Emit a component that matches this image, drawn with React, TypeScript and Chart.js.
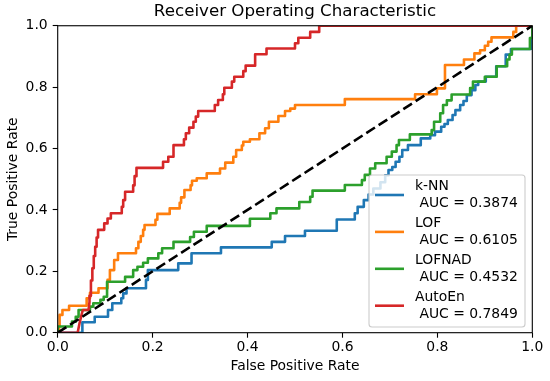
import React, { useEffect, useRef } from "react";
import { Chart, registerables } from "chart.js";

Chart.register(...registerables);

const chartTitle = "Receiver Operating Characteristic";
const xAxisTitle = "False Positive Rate";
const yAxisTitle = "True Positive Rate";

const seriesNames = ["k-NN", "LOF", "LOFNAD", "AutoEn"];
const aucLabels = ["0.3874", "0.6105", "0.4532", "0.7849"];
const seriesColors = ["#1f77b4", "#ff7f0e", "#2ca02c", "#d62728"];

const xTicks = [0, 0.2, 0.4, 0.6, 0.8, 1.0];
const xTickLabels = ["0.0", "0.2", "0.4", "0.6", "0.8", "1.0"];
const yTicks = [0, 0.2, 0.4, 0.6, 0.8, 1.0];
const yTickLabels = ["0.0", "0.2", "0.4", "0.6", "0.8", "1.0"];

// (false positive rate, true positive rate) corners of each ROC curve
const knnRoc: [number, number][] = [
  [0, 0], [0.052, 0], [0.052, 0.034], [0.078, 0.034], [0.078, 0.052], [0.106, 0.052],
  [0.106, 0.074], [0.115, 0.074], [0.115, 0.096], [0.134, 0.096], [0.134, 0.112],
  [0.138, 0.112], [0.138, 0.128], [0.145, 0.128], [0.145, 0.145], [0.186, 0.145],
  [0.186, 0.172], [0.19, 0.172], [0.19, 0.204], [0.254, 0.204], [0.254, 0.226],
  [0.282, 0.226], [0.282, 0.259], [0.344, 0.259], [0.344, 0.278], [0.451, 0.278],
  [0.451, 0.296], [0.479, 0.296], [0.479, 0.315], [0.521, 0.315], [0.521, 0.332],
  [0.588, 0.332], [0.588, 0.369], [0.626, 0.369], [0.626, 0.389], [0.632, 0.389],
  [0.632, 0.41], [0.645, 0.41], [0.645, 0.432], [0.655, 0.432], [0.655, 0.45],
  [0.665, 0.45], [0.665, 0.47], [0.68, 0.47], [0.68, 0.49], [0.69, 0.49], [0.69, 0.513],
  [0.697, 0.513], [0.697, 0.53], [0.705, 0.53], [0.705, 0.54], [0.712, 0.54],
  [0.712, 0.557], [0.72, 0.557], [0.72, 0.573], [0.726, 0.573], [0.726, 0.595],
  [0.738, 0.595], [0.738, 0.611], [0.765, 0.611], [0.765, 0.633], [0.785, 0.633],
  [0.785, 0.643], [0.795, 0.643], [0.795, 0.655], [0.808, 0.655], [0.808, 0.671],
  [0.815, 0.671], [0.815, 0.68], [0.822, 0.68], [0.822, 0.693], [0.832, 0.693],
  [0.832, 0.709], [0.838, 0.709], [0.838, 0.725], [0.848, 0.725], [0.848, 0.742],
  [0.855, 0.742], [0.855, 0.755], [0.862, 0.755], [0.862, 0.774], [0.872, 0.774],
  [0.872, 0.79], [0.88, 0.79], [0.88, 0.807], [0.886, 0.807], [0.886, 0.818],
  [0.902, 0.818], [0.902, 0.834], [0.924, 0.834], [0.924, 0.868], [0.944, 0.868],
  [0.944, 0.906], [0.955, 0.906], [0.955, 0.924], [0.997, 0.924], [0.997, 0.96],
  [1, 0.96], [1, 1],
];

const lofRoc: [number, number][] = [
  [0, 0], [0.004, 0.02], [0.004, 0.058], [0.01, 0.058], [0.01, 0.074], [0.024, 0.074],
  [0.024, 0.088], [0.061, 0.088], [0.061, 0.112], [0.068, 0.112], [0.068, 0.13],
  [0.086, 0.13], [0.086, 0.145], [0.105, 0.145], [0.105, 0.172], [0.11, 0.172],
  [0.11, 0.204], [0.119, 0.204], [0.119, 0.237], [0.127, 0.237], [0.127, 0.259],
  [0.165, 0.259], [0.165, 0.275], [0.17, 0.275], [0.17, 0.296], [0.175, 0.296],
  [0.175, 0.315], [0.18, 0.315], [0.18, 0.335], [0.183, 0.335], [0.183, 0.351],
  [0.206, 0.351], [0.206, 0.368], [0.21, 0.368], [0.21, 0.387], [0.236, 0.387],
  [0.236, 0.405], [0.257, 0.405], [0.257, 0.423], [0.26, 0.423], [0.26, 0.441],
  [0.267, 0.441], [0.267, 0.465], [0.28, 0.465], [0.28, 0.48], [0.283, 0.48],
  [0.283, 0.495], [0.293, 0.495], [0.293, 0.503], [0.314, 0.503], [0.314, 0.519],
  [0.342, 0.519], [0.342, 0.535], [0.353, 0.535], [0.353, 0.554], [0.37, 0.554],
  [0.37, 0.573], [0.376, 0.573], [0.376, 0.595], [0.388, 0.595], [0.388, 0.61],
  [0.391, 0.61], [0.391, 0.622], [0.405, 0.622], [0.405, 0.63], [0.425, 0.63],
  [0.425, 0.65], [0.437, 0.65], [0.437, 0.666], [0.445, 0.666], [0.445, 0.687],
  [0.465, 0.687], [0.465, 0.706], [0.479, 0.706], [0.479, 0.722], [0.49, 0.722],
  [0.49, 0.73], [0.5, 0.73], [0.5, 0.742], [0.605, 0.742], [0.605, 0.761],
  [0.753, 0.761], [0.753, 0.777], [0.799, 0.777], [0.799, 0.796], [0.816, 0.796],
  [0.816, 0.872], [0.856, 0.872], [0.856, 0.89], [0.878, 0.89], [0.878, 0.91],
  [0.89, 0.91], [0.89, 0.92], [0.9, 0.92], [0.9, 0.935], [0.907, 0.935],
  [0.907, 0.948], [0.914, 0.948], [0.914, 0.962], [0.96, 0.962], [0.96, 0.98],
  [0.966, 0.98], [0.966, 1], [1, 1],
];

const lofnadRoc: [number, number][] = [
  [0, 0], [0, 0.02], [0.03, 0.02], [0.03, 0.036], [0.038, 0.036], [0.038, 0.052],
  [0.044, 0.052], [0.044, 0.074], [0.068, 0.074], [0.068, 0.085], [0.075, 0.085],
  [0.075, 0.096], [0.09, 0.096], [0.09, 0.107], [0.097, 0.107], [0.097, 0.117],
  [0.104, 0.117], [0.104, 0.166], [0.142, 0.166], [0.142, 0.182], [0.159, 0.182],
  [0.159, 0.204], [0.168, 0.204], [0.168, 0.215], [0.18, 0.215], [0.18, 0.228],
  [0.19, 0.228], [0.19, 0.242], [0.212, 0.242], [0.212, 0.259], [0.22, 0.259],
  [0.22, 0.275], [0.244, 0.275], [0.244, 0.296], [0.279, 0.296], [0.279, 0.312],
  [0.287, 0.312], [0.287, 0.329], [0.314, 0.329], [0.314, 0.348], [0.405, 0.348],
  [0.405, 0.371], [0.448, 0.371], [0.448, 0.389], [0.461, 0.389], [0.461, 0.405],
  [0.509, 0.405], [0.509, 0.426], [0.532, 0.426], [0.532, 0.443], [0.537, 0.443],
  [0.537, 0.463], [0.605, 0.463], [0.605, 0.481], [0.641, 0.481], [0.641, 0.497],
  [0.647, 0.497], [0.647, 0.514], [0.658, 0.514], [0.658, 0.535], [0.669, 0.535],
  [0.669, 0.552], [0.693, 0.552], [0.693, 0.573], [0.704, 0.573], [0.704, 0.59],
  [0.714, 0.59], [0.714, 0.611], [0.719, 0.611], [0.719, 0.628], [0.742, 0.628],
  [0.742, 0.646], [0.788, 0.646], [0.788, 0.66], [0.793, 0.66], [0.793, 0.687],
  [0.806, 0.687], [0.806, 0.715], [0.812, 0.715], [0.812, 0.742], [0.82, 0.742],
  [0.82, 0.757], [0.83, 0.757], [0.83, 0.776], [0.869, 0.776], [0.869, 0.797],
  [0.875, 0.797], [0.875, 0.818], [0.9, 0.818], [0.9, 0.834], [0.925, 0.834],
  [0.925, 0.868], [0.947, 0.868], [0.947, 0.89], [0.952, 0.89], [0.952, 0.906],
  [0.957, 0.906], [0.957, 0.924], [0.995, 0.924], [0.995, 0.96], [1, 0.96], [1, 1],
];

const autoEnRoc: [number, number][] = [
  [0, 0], [0.042, 0], [0.046, 0.031], [0.051, 0.063], [0.053, 0.074], [0.065, 0.074],
  [0.067, 0.1], [0.067, 0.12], [0.07, 0.12], [0.07, 0.17], [0.073, 0.17], [0.073, 0.21],
  [0.076, 0.21], [0.076, 0.25], [0.079, 0.25], [0.079, 0.28], [0.082, 0.28],
  [0.082, 0.31], [0.085, 0.31], [0.085, 0.335], [0.098, 0.335], [0.098, 0.356],
  [0.105, 0.356], [0.105, 0.372], [0.112, 0.372], [0.112, 0.389], [0.135, 0.389],
  [0.135, 0.41], [0.138, 0.41], [0.138, 0.432], [0.142, 0.432], [0.142, 0.459],
  [0.159, 0.459], [0.159, 0.48], [0.162, 0.48], [0.162, 0.51], [0.166, 0.51],
  [0.166, 0.537], [0.222, 0.537], [0.222, 0.557], [0.233, 0.557], [0.233, 0.573],
  [0.244, 0.573], [0.244, 0.611], [0.266, 0.611], [0.266, 0.63], [0.27, 0.63],
  [0.27, 0.65], [0.277, 0.65], [0.277, 0.668], [0.286, 0.668], [0.286, 0.687],
  [0.291, 0.687], [0.291, 0.704], [0.296, 0.704], [0.296, 0.722], [0.331, 0.722],
  [0.331, 0.742], [0.338, 0.742], [0.338, 0.758], [0.348, 0.758], [0.348, 0.777],
  [0.351, 0.777], [0.351, 0.798], [0.367, 0.798], [0.367, 0.818], [0.372, 0.818],
  [0.372, 0.834], [0.391, 0.834], [0.391, 0.852], [0.396, 0.852], [0.396, 0.87],
  [0.416, 0.87], [0.416, 0.907], [0.44, 0.907], [0.44, 0.926], [0.5, 0.926],
  [0.5, 0.943], [0.507, 0.943], [0.507, 0.961], [0.532, 0.961], [0.532, 0.98],
  [0.551, 0.98], [0.551, 1], [1, 1],
];

const chanceRoc: [number, number][] = [[0, 0], [1, 1]];

const seriesPoints = [knnRoc, lofRoc, lofnadRoc, autoEnRoc];

const FONT = "'DejaVu Sans', 'Liberation Sans', sans-serif";

const frameAndLegend = {
  id: "frameAndLegend",
  afterDatasetsDraw(chart: any) {
    const { ctx, chartArea: a } = chart;
    ctx.save();
    // axes frame (spines)
    ctx.strokeStyle = "#000";
    ctx.lineWidth = 1.1;
    ctx.strokeRect(a.left, a.top, a.right - a.left, a.bottom - a.top);

    // legend box (lower right)
    const w = 156;
    const h = 152;
    const x0 = a.right - 7.3 - w;
    const y0 = a.bottom - 5.7 - h;
    const r = 3;
    ctx.beginPath();
    ctx.moveTo(x0 + r, y0);
    ctx.lineTo(x0 + w - r, y0);
    ctx.arcTo(x0 + w, y0, x0 + w, y0 + r, r);
    ctx.lineTo(x0 + w, y0 + h - r);
    ctx.arcTo(x0 + w, y0 + h, x0 + w - r, y0 + h, r);
    ctx.lineTo(x0 + r, y0 + h);
    ctx.arcTo(x0, y0 + h, x0, y0 + h - r, r);
    ctx.lineTo(x0, y0 + r);
    ctx.arcTo(x0, y0, x0 + r, y0, r);
    ctx.closePath();
    ctx.fillStyle = "rgba(255,255,255,0.8)";
    ctx.fill();
    ctx.strokeStyle = "#cccccc";
    ctx.lineWidth = 1.1;
    ctx.stroke();

    ctx.font = `13.9px ${FONT}`;
    ctx.textBaseline = "middle";
    ctx.textAlign = "left";
    for (let i = 0; i < seriesNames.length; i++) {
      const cy = y0 + 20 + i * 36.9;
      ctx.beginPath();
      ctx.moveTo(x0 + 6, cy);
      ctx.lineTo(x0 + 35, cy);
      ctx.strokeStyle = seriesColors[i];
      ctx.lineWidth = 2.6;
      ctx.lineCap = "butt";
      ctx.stroke();
      ctx.fillStyle = "#000";
      ctx.fillText(seriesNames[i], x0 + 46, cy - 8.3);
      ctx.fillText(" AUC = " + aucLabels[i], x0 + 46, cy + 8.3);
    }
    ctx.restore();
  },
};

export default function App() {
  const ref = useRef<HTMLCanvasElement | null>(null);

  useEffect(() => {
    if (!ref.current) return;
    const datasets: any[] = seriesPoints.map((pts, i) => ({
      label: seriesNames[i],
      data: pts.map(([x, y]) => ({ x, y })),
      borderColor: seriesColors[i],
      backgroundColor: seriesColors[i],
      borderWidth: 2.6,
      pointRadius: 0,
      tension: 0,
      fill: false,
      clip: 0,
      borderJoinStyle: "round",
      order: 4 - i,
    }));
    datasets.push({
      label: "chance",
      data: chanceRoc.map(([x, y]) => ({ x, y })),
      borderColor: "#000",
      borderWidth: 2.6,
      borderDash: [10.3, 4.4],
      pointRadius: 0,
      tension: 0,
      fill: false,
      clip: 0,
      order: 0,
    });

    const tickFont = { family: FONT, size: 13.9 };
    const chart = new Chart(ref.current, {
      type: "line",
      data: { datasets },
      plugins: [frameAndLegend],
      options: {
        animation: false,
        responsive: false,
        events: [],
        layout: { padding: { left: 0, right: 17.7, top: 0, bottom: 0 } },
        plugins: {
          legend: { display: false },
          tooltip: { enabled: false },
          title: {
            display: true,
            text: chartTitle,
            fullSize: false,
            color: "#000",
            font: { family: FONT, size: 16.7, weight: "normal" },
            padding: { top: 1.8, bottom: 3.9 },
          },
        },
        scales: {
          x: {
            type: "linear",
            min: 0,
            max: 1,
            afterBuildTicks: (s: any) => {
              s.ticks = xTicks.map((v) => ({ value: v }));
            },
            afterFit: (s: any) => {
              s.height = 48.3;
            },
            ticks: {
              callback: (_v: any, i: number) => xTickLabels[i],
              color: "#000",
              font: tickFont,
              padding: 1.5,
              maxRotation: 0,
              autoSkip: false,
            },
            grid: {
              drawOnChartArea: false,
              drawTicks: true,
              tickLength: 5,
              tickColor: "#000",
              tickWidth: 1.1,
              color: "#000",
            },
            border: { display: false },
            title: {
              display: true,
              text: xAxisTitle,
              color: "#000",
              font: tickFont,
              padding: { top: 0, bottom: 6.2 },
            },
          },
          y: {
            type: "linear",
            min: 0,
            max: 1,
            afterBuildTicks: (s: any) => {
              s.ticks = yTicks.map((v) => ({ value: v }));
            },
            afterFit: (s: any) => {
              s.width = 57.7;
            },
            ticks: {
              callback: (_v: any, i: number) => yTickLabels[i],
              color: "#000",
              font: tickFont,
              padding: 5,
              autoSkip: false,
            },
            grid: {
              drawOnChartArea: false,
              drawTicks: true,
              tickLength: 5,
              tickColor: "#000",
              tickWidth: 1.1,
              color: "#000",
            },
            border: { display: false },
            title: {
              display: true,
              text: yAxisTitle,
              color: "#000",
              font: tickFont,
              padding: { top: 5, bottom: 0 },
            },
          },
        },
      } as any,
    });
    return () => chart.destroy();
  }, []);

  return (
    <div style={{ position: "fixed", left: 0, top: 0, width: 550, height: 381, background: "#fff" }}>
      <canvas ref={ref} width={550} height={381} style={{ display: "block", width: 550, height: 381 }} />
    </div>
  );
}
